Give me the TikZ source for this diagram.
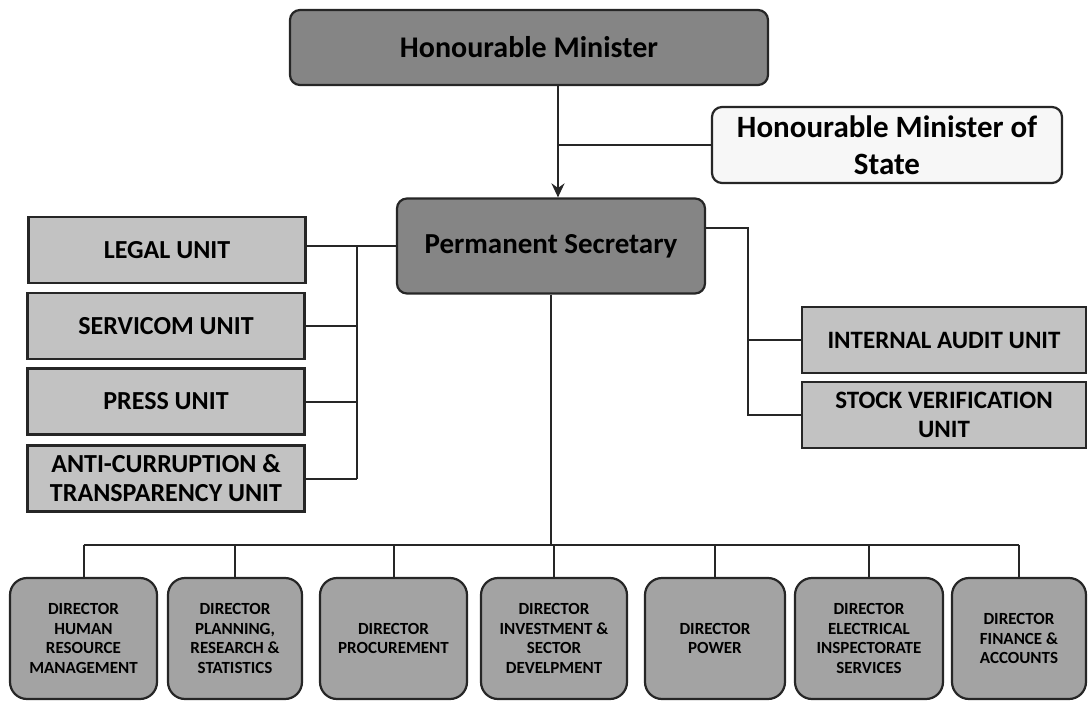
\documentclass[tikz,border=0pt]{standalone}
\usepackage{fontspec}
\setmainfont{Carlito}
\usetikzlibrary{arrows.meta}
\definecolor{bossgray}{gray}{0.52}
\definecolor{unitgray}{gray}{0.76}
\definecolor{dirgray}{gray}{0.64}
\definecolor{stategray}{gray}{0.97}
\tikzset{
  box/.style={draw=black!85,line width=1.1pt,align=center,inner sep=2pt},
  bossbox/.style={box,fill=bossgray,rounded corners=5pt},
  unitbox/.style={box,fill=unitgray,minimum width=138.5pt,minimum height=33pt,font=\bfseries\fontsize{13}{14.5}\selectfont},
  auditbox/.style={box,fill=unitgray,minimum width=142pt,minimum height=33pt,font=\bfseries\fontsize{12.5}{14.5}\selectfont},
  dirbox/.style={box,fill=dirgray,rounded corners=8.5pt,minimum height=60.5pt,font=\bfseries\fontsize{8.5}{9.8}\selectfont},
  link/.style={line width=1pt,black!85}
}
\begin{document}
\begin{tikzpicture}[x=0.5pt,y=-0.5pt]
\useasboundingbox (0,0) rectangle (1089,702);

\node[bossbox,minimum width=239pt,minimum height=37.5pt,font=\bfseries\fontsize{15}{18}\selectfont] (hm) at (529,47.5) {Honourable Minister};
\node[box,fill=stategray,rounded corners=5pt,minimum width=175pt,minimum height=38pt,font=\bfseries\fontsize{15.5}{18.5}\selectfont] (hms) at (887,145) {Honourable Minister of\\State};
\node[bossbox,minimum width=154pt,minimum height=47.5pt,font=\bfseries\fontsize{14.5}{17}\selectfont] (ps) at (551,246) {Permanent Secretary};

\node[unitbox] (legal) at (167,250) {LEGAL UNIT};
\node[unitbox] (servicom) at (166,326) {SERVICOM UNIT};
\node[unitbox] (press) at (166,401.5) {PRESS UNIT};
\node[unitbox] (anti) at (166,478.5) {ANTI-CURRUPTION \&\\TRANSPARENCY UNIT};

\node[auditbox] (audit) at (944,340) {INTERNAL AUDIT UNIT};
\node[auditbox] (stock) at (944,415) {STOCK VERIFICATION\\UNIT};

\node[dirbox,minimum width=73.5pt] (d1) at (83.5,638.5) {DIRECTOR\\HUMAN\\RESOURCE\\MANAGEMENT};
\node[dirbox,minimum width=67pt] (d2) at (235,638.5) {DIRECTOR\\PLANNING,\\RESEARCH \&\\STATISTICS};
\node[dirbox,minimum width=73.5pt] (d3) at (393.5,638.5) {DIRECTOR\\PROCUREMENT};
\node[dirbox,minimum width=73pt] (d4) at (554,638.5) {DIRECTOR\\INVESTMENT \&\\SECTOR\\DEVELPMENT};
\node[dirbox,minimum width=70pt] (d5) at (715,638.5) {DIRECTOR\\POWER};
\node[dirbox,minimum width=74pt] (d6) at (869,638.5) {DIRECTOR\\ELECTRICAL\\INSPECTORATE\\SERVICES};
\node[dirbox,minimum width=67pt] (d7) at (1019,638.5) {DIRECTOR\\FINANCE \&\\ACCOUNTS};

\coordinate (stem) at ([xshift=3.5pt]ps.north);
\coordinate (lbus) at (357,0);
\coordinate (rbus) at (748,228);
\coordinate (bus) at (0,545);

\draw[link,-{Stealth[length=7pt,width=6.5pt]}] (stem |- hm.south) -- (stem);
\draw[link] (hms.west) -- (hms.west -| stem);

\draw[link] (ps.west) -- (ps.west -| legal.east);
\draw[link] (lbus |- ps.west) -- (lbus |- anti.east);
\draw[link] (servicom.east) -- (servicom.east -| lbus);
\draw[link] (press.east) -- (press.east -| lbus);
\draw[link] (anti.east) -- (anti.east -| lbus);

\draw[link] (ps.east |- rbus) -- (rbus) -- (rbus |- stock.west) -- (stock.west);
\draw[link] (rbus |- audit.west) -- (audit.west);

\draw[link] (ps.south) -- (ps.south |- bus);
\draw[link] (d1.north |- bus) -- (d7.north |- bus);
\foreach \i in {1,...,7}
  \draw[link] (d\i.north |- bus) -- (d\i.north);
\end{tikzpicture}
\end{document}
